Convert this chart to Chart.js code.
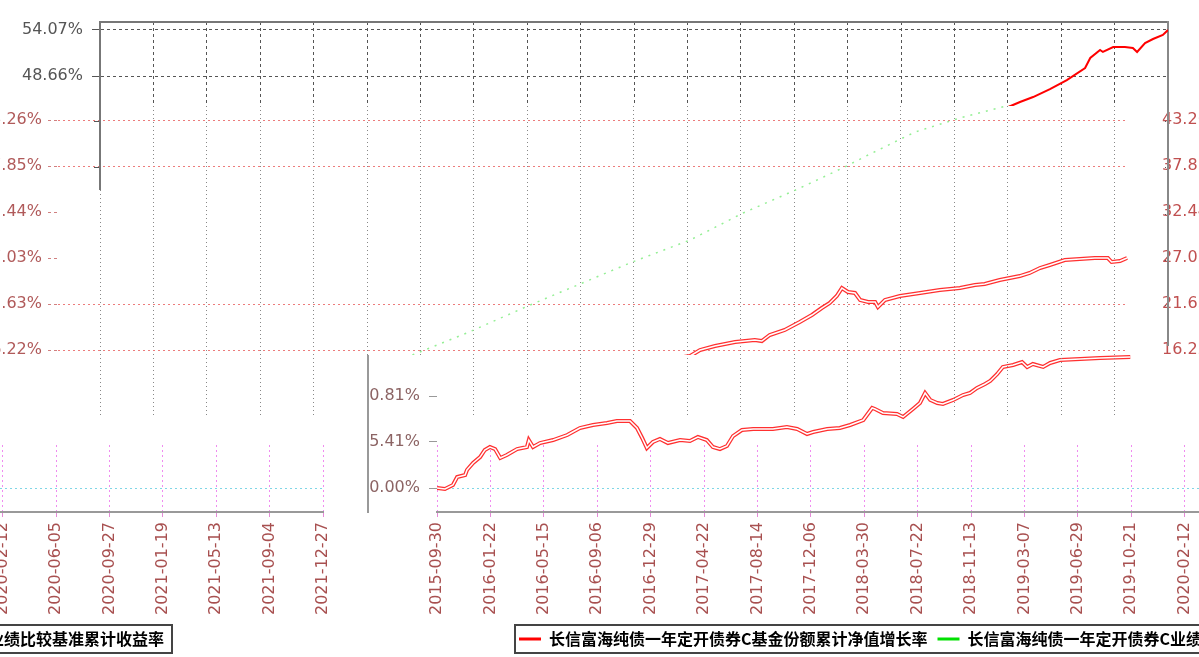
<!DOCTYPE html>
<html>
<head>
<meta charset="utf-8">
<script src="https://cdn.jsdelivr.net/npm/chart.js@4.4.1/dist/chart.umd.min.js"></script>
<style>
html, body { margin: 0; padding: 0; background: #fff; }
#stage { position: relative; width: 1199px; height: 657px; overflow: hidden; background: #fff; }
.clip { position: absolute; overflow: hidden; }
.clip canvas { position: absolute; }
</style>
</head>
<body>
<div id="stage"></div>
<script>
// x labels: one every 114 days from 2015-09-30
const xLabels = ['2015-09-30', '2016-01-22', '2016-05-15', '2016-09-06', '2016-12-29', '2017-04-22',
    '2017-08-14', '2017-12-06', '2018-03-30', '2018-07-22', '2018-11-13', '2019-03-07', '2019-06-29',
    '2019-10-21', '2020-02-12', '2020-06-05', '2020-09-27', '2021-01-19', '2021-05-13', '2021-09-04', '2021-12-27'];
const xStep = 114;
const yTicks = [0, 5.41, 10.81, 16.22, 21.63, 27.03, 32.44, 37.85, 43.26, 48.66, 54.07];
const lowerTicks = [0, 5.41, 10.81, 16.22];
const midHiddenGrid = [32.44, 27.03];

const fundName = '长信富海纯债一年定开债券C基金份额累计净值增长率';
const benchName = '长信富海纯债一年定开债券C业绩比较基准累计收益率';

// x values are days since 2015-09-30, y values in %
const topFundDays = [1911, 1939, 1964, 1992, 2028, 2064, 2103, 2114, 2135, 2141, 2163, 2188, 2205, 2214, 2231, 2248, 2269, 2280];
const topFundValues = [44.31, 45.02, 45.61, 46.19, 47.13, 48.19, 49.60, 50.78, 51.72, 51.49, 52.07, 52.07, 51.96, 51.49, 52.54, 53.01, 53.48, 54.07];

const midFundDays = [1232, 1260, 1281, 1313, 1356, 1398, 1413, 1430, 1462, 1494, 1520, 1541, 1558, 1573, 1584, 1597, 1612, 1623, 1640, 1655,
    1661, 1676, 1708, 1751, 1793, 1836, 1868, 1889, 1921, 1964, 1985, 2007, 2028, 2060, 2092, 2124, 2152, 2160, 2178, 2193];
const midFundValues = [15.28, 15.52, 16.22, 16.69, 17.16, 17.40, 17.28, 17.99, 18.58, 19.52, 20.34, 21.16, 21.75, 22.57, 23.51, 23.04, 22.93, 22.10, 21.87, 21.87,
    21.28, 22.10, 22.57, 22.93, 23.28, 23.51, 23.87, 23.98, 24.45, 24.92, 25.28, 25.86, 26.22, 26.80, 26.92, 27.04, 27.04, 26.57, 26.69, 27.04];

const midBenchDays = [651, 783, 918, 1131, 1260, 1373, 1490, 1590, 1640, 1740, 1836, 1943];
const midBenchValues = [15.28, 18.22, 21.51, 26.45, 29.16, 32.33, 35.15, 37.74, 39.15, 41.85, 43.50, 45.03];

const lowFundDays = [0, 17, 34, 43, 60, 64, 77, 92, 102, 113, 124, 135, 149, 171, 192, 196, 205, 220, 248, 278,
    305, 333, 363, 384, 412, 427, 438, 448, 461, 476, 493, 519, 540, 557, 576, 589, 604, 619, 632, 651,
    675, 717, 747, 769, 790, 803, 833, 860, 882, 910, 929, 935, 952, 982, 995, 1016, 1031, 1042, 1053, 1068,
    1080, 1102, 1123, 1138, 1153, 1170, 1181, 1196, 1208, 1230, 1249, 1260, 1272, 1294, 1309, 1330, 1373, 1416, 1480];
const lowFundValues = [0.00, -0.12, 0.35, 1.29, 1.53, 2.12, 2.94, 3.64, 4.47, 4.82, 4.58, 3.53, 3.88, 4.58, 4.82, 5.64, 4.82, 5.29, 5.64, 6.23,
    7.05, 7.41, 7.64, 7.88, 7.88, 7.05, 5.88, 4.70, 5.41, 5.76, 5.29, 5.64, 5.53, 6.00, 5.64, 4.82, 4.58, 4.94, 6.11, 6.82,
    6.94, 6.94, 7.17, 6.94, 6.35, 6.58, 6.94, 7.05, 7.41, 7.99, 9.41, 9.29, 8.82, 8.70, 8.35, 9.29, 9.99, 11.17, 10.35, 9.99,
    9.88, 10.35, 10.93, 11.17, 11.76, 12.23, 12.58, 13.40, 14.23, 14.46, 14.81, 14.23, 14.58, 14.23, 14.70, 15.05, 15.17, 15.28, 15.40];
const lowBenchDays = [];
const lowBenchValues = [];

const tickFont = { family: 'DejaVu Sans', size: 16 };
const clear = 'rgba(0,0,0,0)';

function pts(days, values) {
    return days.map((d, i) => ({ x: d, y: values[i] }));
}

function dayTicks(scale) {
    scale.ticks = xLabels.map((_, i) => ({ value: i * xStep }))
        .filter(t => t.value >= scale.min && t.value <= scale.max);
}

function fixedTicks(list) {
    return scale => {
        scale.ticks = list.filter(v => v >= scale.min && v <= scale.max).map(v => ({ value: v }));
    };
}

// fixed axis size, and no extra room for labels that stick out
function fixSize(w, h) {
    return s => {
        if (w !== null) s.width = w;
        if (h !== null) s.height = h;
        s.paddingTop = 0;
        s.paddingBottom = 0;
        s.paddingLeft = 0;
        s.paddingRight = 0;
    };
}

const pct = v => v.toFixed(2) + '%';
const dateLabel = v => xLabels[Math.round(v / xStep)] || '';

const base = {
    responsive: false,
    animation: false,
    devicePixelRatio: 1,
    events: [],
    elements: { point: { radius: 0 }, line: { tension: 0, fill: false } }
};

// frame around the legend row
const legendFrame = {
    id: 'legendFrame',
    afterDraw(chart) {
        const lg = chart.legend;
        if (!lg || !lg.legendHitBoxes || !lg.legendHitBoxes.length) return;
        const boxes = lg.legendHitBoxes;
        const left = Math.min(...boxes.map(b => b.left)) - 4;
        const right = Math.max(...boxes.map(b => b.left + b.width)) + 8;
        const top = boxes[0].top - 6;
        const bottom = boxes[0].top + boxes[0].height + 6;
        const ctx = chart.ctx;
        ctx.save();
        ctx.strokeStyle = '#444';
        ctx.lineWidth = 2;
        ctx.strokeRect(left, top, right - left, bottom - top);
        ctx.restore();
    }
};

function upperConfig() {
    return {
        type: 'line',
        data: {
            datasets: [{ data: pts(topFundDays, topFundValues), borderColor: '#ff0000', borderWidth: 2 }]
        },
        options: Object.assign({}, base, {
            layout: { autoPadding: false, padding: { top: 22, left: 0, right: 0, bottom: 0 } },
            plugins: { legend: { display: false }, tooltip: { enabled: false } },
            scales: {
                x: {
                    type: 'linear', min: 0, max: 2280, afterBuildTicks: dayTicks,
                    ticks: { display: false },
                    grid: { color: '#555', drawTicks: false },
                    border: { display: false, dash: [3, 3] },
                    afterFit: fixSize(null, 30)
                },
                x2: {
                    type: 'linear', position: 'top', min: 0, max: 2280,
                    ticks: { display: false },
                    grid: { drawOnChartArea: false, drawTicks: false },
                    border: { display: true, color: '#777', width: 2 },
                    afterFit: fixSize(null, 0)
                },
                y: {
                    min: 0, max: 55.01, afterBuildTicks: fixedTicks(yTicks),
                    ticks: { callback: pct, font: tickFont, color: '#555', padding: 9 },
                    grid: { color: '#555', tickLength: 8, tickColor: '#555' },
                    border: { color: '#777', width: 2, dash: [3, 3] },
                    afterFit: fixSize(100, null)
                },
                y2: {
                    position: 'right', min: 0, max: 55.01,
                    ticks: { display: false },
                    grid: { drawOnChartArea: false, drawTicks: false },
                    border: { display: true, color: '#888', width: 2 },
                    afterFit: fixSize(31, null)
                }
            }
        })
    };
}

// vertOnly: only the vertical grid of this band (used where it runs on below the band)
function middleConfig(vertOnly) {
    const fund = pts(midFundDays, midFundValues);
    return {
        type: 'line',
        data: {
            datasets: [
                { data: pts(midBenchDays, midBenchValues), borderColor: '#95ef95', borderWidth: 1.5, borderDash: [2, 6], order: 0, hidden: vertOnly },
                { data: fund, borderColor: '#ffffff', borderWidth: 1.5, order: 1, hidden: vertOnly },
                { data: fund, borderColor: '#ff3030', borderWidth: 4, order: 2, hidden: vertOnly }
            ]
        },
        options: Object.assign({}, base, {
            layout: { autoPadding: false, padding: { top: 22, left: 0, right: 0, bottom: 0 } },
            plugins: { legend: { display: false }, tooltip: { enabled: false } },
            scales: {
                x: {
                    type: 'linear', min: -90, max: 2195, afterBuildTicks: dayTicks,
                    ticks: { display: false },
                    grid: { color: '#888', drawTicks: false },
                    border: { display: false, dash: [1, 3] },
                    afterFit: fixSize(null, 10)
                },
                y: {
                    min: 0, max: 54.79, afterBuildTicks: fixedTicks(yTicks),
                    ticks: { display: !vertOnly, callback: pct, font: tickFont, color: '#b05a5a', padding: 6 },
                    grid: {
                        display: !vertOnly,
                        color: c => (c.tick && midHiddenGrid.includes(c.tick.value)) ? clear : '#ec7c7c',
                        tickColor: '#d08080', tickLength: 10, tickBorderDash: [3, 3]
                    },
                    border: { display: false, dash: [2, 3] },
                    afterFit: fixSize(80, null)
                },
                y2: {
                    position: 'right', min: 0, max: 54.79, afterBuildTicks: fixedTicks(yTicks),
                    ticks: { display: !vertOnly, callback: pct, font: tickFont, color: '#c05050', padding: 34 },
                    grid: { drawOnChartArea: false, drawTicks: false },
                    border: { display: false },
                    afterFit: fixSize(131, null)
                }
            }
        })
    };
}

function lowerConfig(showXGrid) {
    const fund = pts(lowFundDays, lowFundValues);
    return {
        type: 'line',
        data: {
            datasets: [
                { label: fundName, data: fund, borderColor: '#ff3030', borderWidth: 4, order: 2 },
                { label: '', data: fund, borderColor: '#ffffff', borderWidth: 1.5, order: 1 },
                { label: benchName, data: pts(lowBenchDays, lowBenchValues), borderColor: '#00dd00', borderWidth: 2, order: 0 }
            ]
        },
        plugins: [legendFrame],
        options: Object.assign({}, base, {
            layout: { autoPadding: false, padding: { top: 340, left: 10, right: 6, bottom: 0 } },
            plugins: {
                tooltip: { enabled: false },
                legend: {
                    position: 'bottom',
                    labels: {
                        boxWidth: 22, boxHeight: 3, padding: 10, color: '#444',
                        font: { family: 'Noto Sans CJK SC', size: 16, weight: 'bold' },
                        generateLabels: () => [
                            { text: fundName, fillStyle: '#ff0000', strokeStyle: '#ff0000', lineWidth: 0, hidden: false, datasetIndex: 0 },
                            { text: benchName, fillStyle: '#00e000', strokeStyle: '#00e000', lineWidth: 0, hidden: false, datasetIndex: 2 }
                        ]
                    }
                }
            },
            scales: {
                x: {
                    type: 'linear', min: 0, max: 2280, afterBuildTicks: dayTicks,
                    ticks: { callback: dateLabel, font: tickFont, color: '#a85050', minRotation: 90, maxRotation: 90, padding: 5, autoSkip: false },
                    grid: { display: showXGrid, color: '#f08cf0', tickLength: 5, tickColor: '#e58ad8' },
                    border: { color: '#999', width: 2, dash: [2, 3] },
                    afterFit: fixSize(null, 109)
                },
                y: {
                    weight: 0, min: -2.82, max: 17.40, afterBuildTicks: fixedTicks(lowerTicks),
                    ticks: { callback: pct, font: tickFont, color: '#8c6464', padding: 9 },
                    grid: { color: c => (c.tick && c.tick.value === 0) ? '#7fd6e6' : clear, tickColor: '#999', tickLength: 8 },
                    border: { display: false, dash: [2, 3] },
                    afterFit: fixSize(69, null)
                },
                y2: {
                    position: 'left', weight: 1, min: -2.82, max: 17.40,
                    ticks: { display: false },
                    grid: { drawOnChartArea: false, drawTicks: false },
                    border: { display: true, color: '#999', width: 2 },
                    afterFit: fixSize(8, null)
                }
            }
        })
    };
}

const stage = document.getElementById('stage');

function mount(makeConfig, box, clips) {
    clips.forEach(([cx, cy, cw, ch]) => {
        const clip = document.createElement('div');
        clip.className = 'clip';
        clip.style.left = cx + 'px';
        clip.style.top = cy + 'px';
        clip.style.width = cw + 'px';
        clip.style.height = ch + 'px';
        const canvas = document.createElement('canvas');
        canvas.width = box.w;
        canvas.height = box.h;
        canvas.style.width = box.w + 'px';
        canvas.style.height = box.h + 'px';
        canvas.style.left = (box.x - cx) + 'px';
        canvas.style.top = (box.y - cy) + 'px';
        clip.appendChild(canvas);
        stage.appendChild(clip);
        new Chart(canvas, makeConfig());
    });
}

// lower band, right copy
mount(() => lowerConfig(true), { x: 350, y: 0, w: 1161, h: 657 }, [[354, 442, 845, 215]]);
mount(() => lowerConfig(false), { x: 350, y: 0, w: 1161, h: 657 }, [[354, 355, 845, 87]]);
// lower band, left copy
mount(() => lowerConfig(true), { x: -832, y: 0, w: 1161, h: 657 }, [[0, 442, 335, 215]]);
// middle band, and its vertical grid running on below it
mount(() => middleConfig(false), { x: -22, y: 0, w: 1281, h: 498 }, [[0, 105, 1199, 250]]);
mount(() => middleConfig(true), { x: -22, y: 0, w: 1281, h: 498 }, [[0, 355, 335, 62], [437, 355, 762, 62]]);
// top band
mount(upperConfig, { x: 0, y: 0, w: 1199, h: 520 }, [[0, 0, 1199, 106], [94, 106, 7, 84], [1165, 106, 8, 240]]);
</script>
</body>
</html>
